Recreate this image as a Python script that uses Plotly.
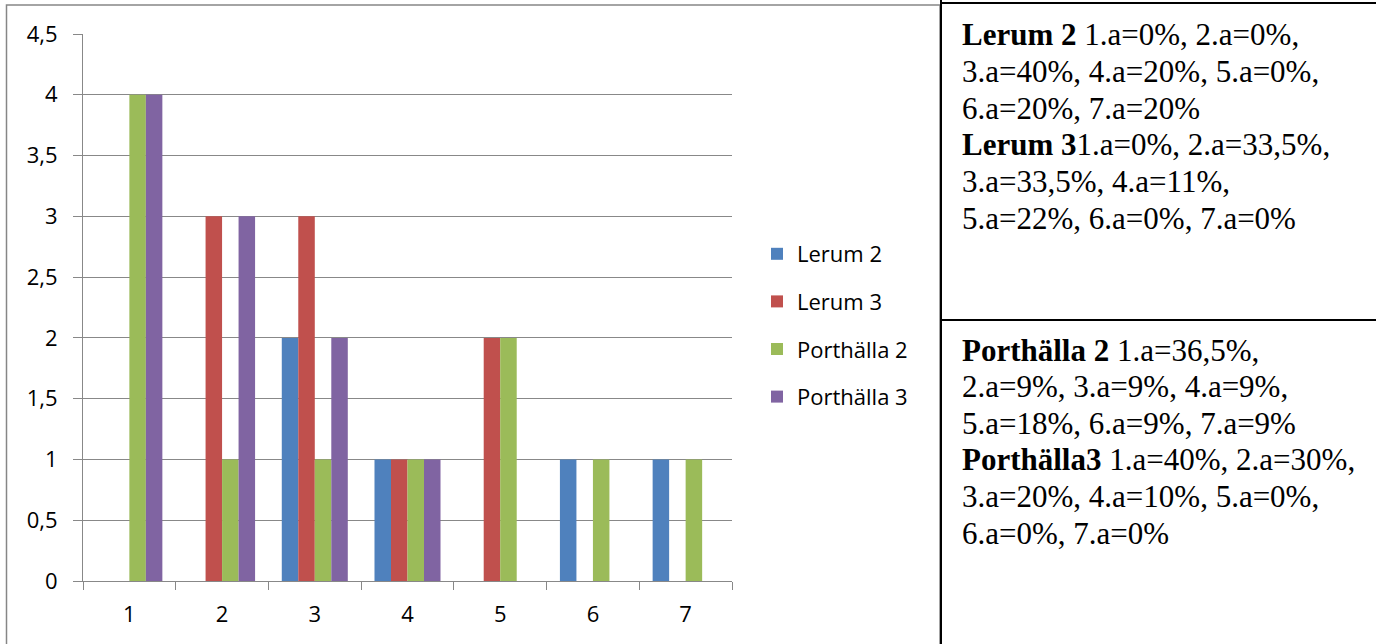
import plotly.graph_objects as go

categories = ["1", "2", "3", "4", "5", "6", "7"]
lerum2 = [0, 0, 2, 1, 0, 1, 1]
lerum3 = [0, 3, 3, 1, 2, 0, 0]
porthalla2 = [4, 1, 1, 1, 2, 1, 1]
porthalla3 = [4, 3, 2, 1, 0, 0, 0]
series_names = ["Lerum 2", "Lerum 3", "Porthälla 2", "Porthälla 3"]
series_values = [lerum2, lerum3, porthalla2, porthalla3]
series_colors = ["#4F81BD", "#C0504D", "#9BBB59", "#8064A2"]
y_ticks = [0, 0.5, 1, 1.5, 2, 2.5, 3, 3.5, 4, 4.5]

lines_top = ["<b>Lerum 2</b> 1.a=0%, 2.a=0%,",
             "3.a=40%, 4.a=20%, 5.a=0%,",
             "6.a=20%, 7.a=20%",
             "<b>Lerum 3</b>1.a=0%, 2.a=33,5%,",
             "3.a=33,5%, 4.a=11%,",
             "5.a=22%, 6.a=0%, 7.a=0%"]
lines_bottom = ["<b>Porthälla 2</b> 1.a=36,5%,",
                "2.a=9%, 3.a=9%, 4.a=9%,",
                "5.a=18%, 6.a=9%, 7.a=9%",
                "<b>Porthälla3</b> 1.a=40%, 2.a=30%,",
                "3.a=20%, 4.a=10%, 5.a=0%,",
                "6.a=0%, 7.a=0%"]

W, H = 1376, 644
L, R, T, B = 83, 732, 34, 581  # plot area in pixels
pw, ph = R - L, B - T

def px(x):
    return (x - L) / pw

def py(y):
    return (B - y) / ph

fig = go.Figure()
for i, (name, vals, col) in enumerate(zip(series_names, series_values, series_colors)):
    fig.add_trace(go.Bar(x=categories, y=vals, name=name, marker_color=col,
                         marker_line_width=0, legendgroup=f"g{i}"))

grid_col = "#888888"
axis_font = dict(family="Open Sans", size=22, color="#000000")
fig.update_layout(
    width=W, height=H,
    margin=dict(l=L, r=W - R, t=T, b=H - B, pad=0),
    paper_bgcolor="white", plot_bgcolor="white",
    barmode="group", bargap=0.288, bargroupgap=0,
    separators=", ",
    font=axis_font,
    showlegend=True,
    legend=dict(x=px(757), xanchor="left", y=py(325.5), yanchor="middle",
                tracegroupgap=16, font=axis_font,
                bgcolor="rgba(0,0,0,0)", itemclick=False),
    xaxis=dict(type="category", showgrid=False, showline=True, linecolor=grid_col,
               linewidth=1, ticks="outside", tickson="boundaries", ticklen=8,
               tickcolor=grid_col, tickwidth=1, ticklabelstandoff=14,
               tickfont=axis_font),
    yaxis=dict(range=[0, 4.5], tickvals=y_ticks, showgrid=True, gridcolor=grid_col,
               gridwidth=1, showline=True, linecolor=grid_col, linewidth=1,
               ticks="outside", ticklen=9, tickcolor=grid_col, tickwidth=1,
               ticklabelstandoff=11, zeroline=False,
               tickfont=axis_font),
)

shapes = []
# chart frame (gray)
shapes.append(dict(type="rect", xref="paper", yref="paper",
                   x0=px(6.5), x1=px(940), y0=py(700), y1=py(5),
                   line=dict(color="#868686", width=1.5), layer="below"))
# black table lines
shapes.append(dict(type="line", xref="paper", yref="paper",
                   x0=px(941), x1=px(941), y0=py(0), y1=py(700),
                   line=dict(color="black", width=2)))
shapes.append(dict(type="line", xref="paper", yref="paper",
                   x0=px(941), x1=px(1380), y0=py(3), y1=py(3),
                   line=dict(color="black", width=2)))
shapes.append(dict(type="line", xref="paper", yref="paper",
                   x0=px(941), x1=px(1380), y0=py(320), y1=py(320),
                   line=dict(color="black", width=2)))
fig.update_layout(shapes=shapes)

ann_font = dict(family="Liberation Serif", size=31, color="black")
line_step = 36.6
for start, lines in ((35, lines_top), (350, lines_bottom)):
    for k, txt in enumerate(lines):
        fig.add_annotation(xref="paper", yref="paper", x=px(960), y=py(start + k * line_step),
                           xanchor="left", yanchor="middle", align="left", showarrow=False,
                           text=txt, font=ann_font)

fig.write_html("out.html", config={"displayModeBar": False},
               post_script="document.body.style.margin='0';")
